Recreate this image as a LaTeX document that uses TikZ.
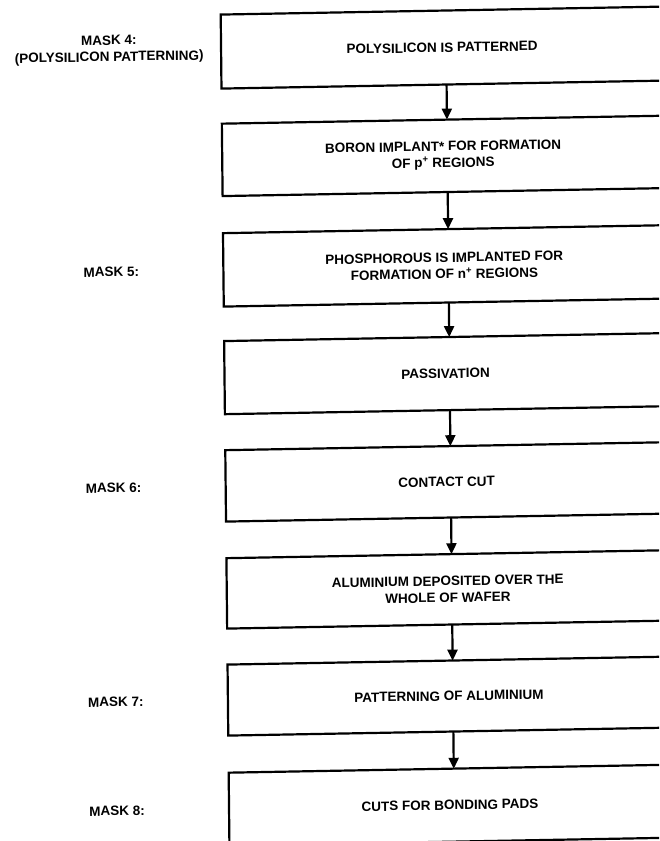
\documentclass[tikz,border=0pt]{standalone}
\usepackage{fontspec}
\setmainfont{Liberation Sans}
\usetikzlibrary{arrows.meta}
\begin{document}
\begin{tikzpicture}[x=1pt,y=-1pt,
  txt/.style={font=\bfseries\fontsize{13.5}{16.5}\selectfont},
  stepbox/.style={txt, draw, line width=2.2pt, rectangle, anchor=north west,
    minimum width=442pt, inner sep=0pt, outer sep=0pt, align=center},
  masklabel/.style={txt, align=center, inner sep=0pt},
  flow/.style={line width=2.2pt, -{Triangle[length=11pt,width=10pt]}},
]
\useasboundingbox (0,0) rectangle (659,841);
\clip (0,0) rectangle (659,841);
% the whole sheet sits slightly askew
\begin{scope}[cm={1,0.018,-0.0105,1,(-4.41pt,-7.92pt)}, transform shape]
  % process steps
  \node[stepbox, minimum height=74pt]   (b1) at (225,10.7)  {POLYSILICON IS PATTERNED};
  \node[stepbox, minimum height=72.4pt] (b2) at (225,119.8) {BORON IMPLANT* FOR FORMATION\\OF p\textsuperscript{+} REGIONS};
  \node[stepbox, minimum height=73.4pt] (b3) at (225,229.3) {PHOSPHOROUS IS IMPLANTED FOR\\FORMATION OF n\textsuperscript{+} REGIONS};
  \node[stepbox, minimum height=73.1pt] (b4) at (225,337.2) {PASSIVATION};
  \node[stepbox, minimum height=71.4pt] (b5) at (225,446.3) {CONTACT CUT};
  \node[stepbox, minimum height=70.4pt] (b6) at (225,554.3) {ALUMINIUM DEPOSITED OVER THE\\WHOLE OF WAFER};
  \node[stepbox, minimum height=71pt]   (b7) at (225,660.7) {PATTERNING OF ALUMINIUM};
  \node[stepbox, minimum height=73pt]   (b8) at (225,768.8) {CUTS FOR BONDING PADS};
  % mask labels
  \node[masklabel] (m4) at (113,44)  {MASK 4:\\(POLYSILICON PATTERNING)};
  \node[masklabel] (m5) at (113,266) {MASK 5:};
  \node[masklabel] (m6) at (113,482) {MASK 6:};
  \node[masklabel] (m7) at (113,696) {MASK 7:};
  \node[masklabel] (m8) at (113,805) {MASK 8:};
  % flow arrows
  \foreach \a/\b in {b1/b2,b2/b3,b3/b4,b4/b5,b5/b6,b6/b7,b7/b8}
    \draw[flow] ([xshift=4pt]\a.south) -- ([xshift=4pt]\b.north);
\end{scope}
\end{tikzpicture}
\end{document}
